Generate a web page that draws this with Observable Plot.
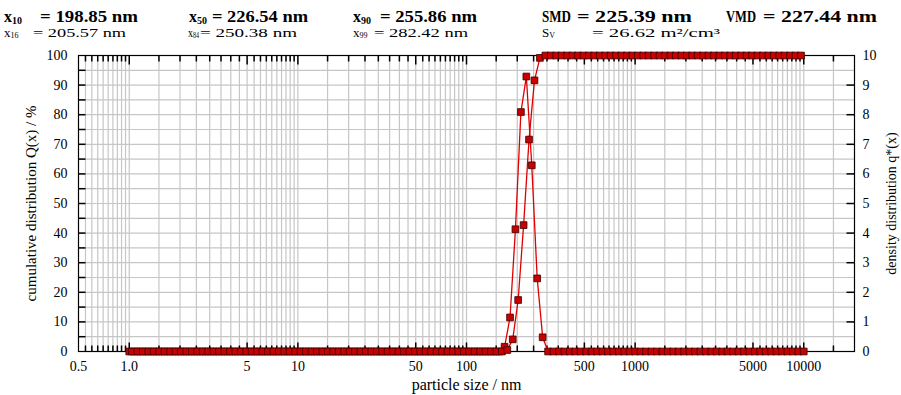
<!DOCTYPE html>
<html><head><meta charset="utf-8">
<script src="https://cdn.jsdelivr.net/npm/d3@7"></script>
<script src="https://cdn.jsdelivr.net/npm/@observablehq/plot@0.6"></script>
<style>
body{margin:0;background:#fff;font-family:"Liberation Serif",serif;}
svg{display:block}
</style></head><body>
<svg id="hdr" width="901" height="42" fill="#000" style="font-family:'Liberation Serif',serif"></svg>
<div id="chart"></div>
<script>
// ---------- header statistics ----------
const mainNames = [["x","10"],["x","50"],["x","90"],["SMD",""],["VMD",""]];
const mainValues = ["198.85 nm","226.54 nm","255.86 nm","225.39 nm","227.44 nm"];
const subNames = [["x","16"],["x","84"],["x","99"],["S","V"]];
const subValues = ["205.57 nm","250.38 nm","282.42 nm","26.62 m²/cm³"];

// ---------- axes ----------
const xTickValues = [0.5, 1, 5, 10, 50, 100, 500, 1000, 5000, 10000];
const xTickLabels = ["0.5","1.0","5","10","50","100","500","1000","5000","10000"];
const leftTickValues = [0,10,20,30,40,50,60,70,80,90,100];
const rightTickValues = [0,1,2,3,4,5,6,7,8,9,10];
const xLabel = "particle size / nm";
const yLeftLabel = "cumulative distribution Q(x) / %";
const yRightLabel = "density distribution q*(x)";

// ---------- cumulative distribution Q(x) ----------
const sizeQ = [
 1.038,1.118,1.204,1.297,1.397,1.505,1.621,1.746,1.880,2.025,2.181,2.349,2.530,2.726,2.936,3.162,3.406,3.669,3.951,4.256,4.584,4.938,5.318,5.728,6.170,6.646,7.158,7.710,8.305,8.945,9.635,
 10.38,11.18,12.04,12.97,13.97,15.05,16.21,17.46,18.80,20.25,21.81,23.49,25.30,27.26,29.36,31.62,34.06,36.69,39.51,42.56,45.84,49.38,53.18,57.28,61.70,66.46,71.58,77.10,83.05,89.45,96.35,
 103.8,111.8,120.4,129.7,139.7,150.5,162.1,174.6,188.0,202.5,218.1,234.9,253.0,272.6,293.6,316.2,340.6,366.9,395.1,425.6,458.4,493.8,531.8,572.8,617.0,664.6,715.8,771.0,830.5,894.5,963.5,
 1038,1118,1204,1297,1397,1505,1621,1746,1880,2025,2181,2349,2530,2726,2936,3162,3406,3669,3951,4256,4584,4938,5318,5728,6170,6646,7158,7710,8305,8945,9635
];
const Qvals = [
 0,0,0,0,0,0,0,0,0,0, 0,0,0,0,0,0,0,0,0,0, 0,0,0,0,0,0,0,0,0,0, 0,
 0,0,0,0,0,0,0,0,0,0, 0,0,0,0,0,0,0,0,0,0, 0,0,0,0,0,0,0,0,0,0, 0,
 0,0,0,0,0,0,0,0.5,4.1,17.4, 42.7,71.6,91.6,99.2,100,100,100,100,100,100, 100,100,100,100,100,100,100,100,100,100, 100,
 100,100,100,100,100,100,100,100,100,100, 100,100,100,100,100,100,100,100,100,100, 100,100,100,100,100,100,100,100,100,100, 100
];

// ---------- density distribution q*(x) ----------
const sizeq = [
 1,1.077,1.160,1.250,1.346,1.450,1.562,1.682,1.812,1.951,2.102,2.264,2.438,2.626,2.829,3.047,3.282,3.535,3.808,4.101,4.417,4.758,5.125,5.520,5.946,6.404,6.898,7.430,8.003,8.620,9.284,
 10,10.77,11.60,12.50,13.46,14.50,15.62,16.82,18.12,19.51,21.02,22.64,24.38,26.26,28.29,30.47,32.82,35.35,38.08,41.01,44.17,47.58,51.25,55.20,59.46,64.04,68.98,74.30,80.03,86.20,92.84,
 100,107.7,116.0,125.0,134.6,145.0,156.2,168.2,181.2,195.1,210.2,226.4,243.8,262.6,282.9,304.7,328.2,353.5,380.8,410.1,441.7,475.8,512.5,552.0,594.6,640.4,689.8,743.0,800.3,862.0,928.4,
 1000,1077,1160,1250,1346,1450,1562,1682,1812,1951,2102,2264,2438,2626,2829,3047,3282,3535,3808,4101,4417,4758,5125,5520,5946,6404,6898,7430,8003,8620,9284,10000
];
const qvals = [
 0,0,0,0,0,0,0,0,0,0, 0,0,0,0,0,0,0,0,0,0, 0,0,0,0,0,0,0,0,0,0, 0,
 0,0,0,0,0,0,0,0,0,0, 0,0,0,0,0,0,0,0,0,0, 0,0,0,0,0,0,0,0,0,0, 0,
 0,0,0,0,0,0,0,0.16,1.15,4.13, 8.09,9.29,6.29,2.47,0.48,0,0,0,0,0, 0,0,0,0,0,0,0,0,0,0, 0,
 0,0,0,0,0,0,0,0,0,0, 0,0,0,0,0,0,0,0,0,0, 0,0,0,0,0,0,0,0,0,0, 0,0
];

// ---------- header drawing ----------
const SERIF = "'Liberation Serif', serif";
const hdr = d3.select("#hdr");
const mainLX = [4,189,353,542,726], mainVX = [40,212,380,577,763], mainVW = [98,96,97,115,114];
const mainNW = [null,null,null,29,30];
const subLX = [4,188,353,542], subVX = [33,200,374,592], subVW = [93,97,94,128];
const subNW = [null,11,null,null];
function drawName(x, y, [name, sub], size, subSize, weight, subDy, w) {
  const t = hdr.append("text").attr("x", x).attr("y", y).attr("font-size", size).attr("font-weight", weight);
  if (w) t.attr("textLength", w).attr("lengthAdjust", "spacingAndGlyphs");
  t.append("tspan").text(name);
  if (sub) t.append("tspan").attr("font-size", subSize).attr("dy", subDy).text(sub);
}
function drawValue(x, y, txt, w, size, weight) {
  hdr.append("text").attr("x", x).attr("y", y).attr("font-size", size).attr("font-weight", weight)
    .attr("textLength", w).attr("lengthAdjust", "spacingAndGlyphs").text("= " + txt);
}
mainNames.forEach((n, i) => {
  drawName(mainLX[i], 21.5, n, 16, 10, "bold", 2, mainNW[i]);
  drawValue(mainVX[i], 21.5, mainValues[i], mainVW[i], 16, "bold");
});
subNames.forEach((n, i) => {
  drawName(subLX[i], 36.5, n, 13, 8, "normal", 1.5, subNW[i]);
  drawValue(subVX[i], 36.5, subValues[i], subVW[i], 13, "normal");
});

// ---------- chart ----------
const cumData = sizeQ.map((s, i) => ({size: s, Q: Qvals[i]}));
const densData = sizeq.map((s, i) => ({size: s, q: qvals[i]}));
const xDomain = [0.5, 20000];
const gridX = [];
for (let e = -1; e <= 4; e++) for (let m = 1; m < 10; m += 0.5) {
  const v = +(m * 10 ** e).toPrecision(3);
  if (v > 0.5 && v < 20000) gridX.push(v);
}
const gridY = d3.range(5, 100, 5);
const minorX = gridX.filter(v => !xTickValues.includes(v));
const majorX = xTickValues.filter(v => v > 0.5);
const tickSym = (dx, dy) => ({draw(ctx) { ctx.moveTo(0, 0); ctx.lineTo(dx, dy); }});
const lineColor = "#e00000", dotFill = "#c80000", dotStroke = "#3a0000";

const chart = Plot.plot({
  width: 901, height: 353,
  marginLeft: 78, marginRight: 47, marginTop: 13, marginBottom: 44,
  style: {fontSize: "14px", color: "#000", background: "#fff"},
  x: {type: "log", domain: xDomain, axis: null},
  y: {domain: [0, 100], axis: null},
  marks: [
    Plot.ruleX(gridX, {stroke: "#c6c6c6", strokeWidth: 1.2}),
    Plot.ruleY(gridY, {stroke: "#c6c6c6", strokeWidth: 1.2}),
    Plot.frame({stroke: "#000", strokeWidth: 1.2}),
    Plot.dot(minorX, {x: d => d, y: 0, symbol: tickSym(0, -6), stroke: "#000", fill: "none"}),
    Plot.dot(minorX, {x: d => d, y: 100, symbol: tickSym(0, 6), stroke: "#000", fill: "none"}),
    Plot.dot(majorX, {x: d => d, y: 0, symbol: tickSym(0, -9), stroke: "#000", fill: "none"}),
    Plot.dot(majorX, {x: d => d, y: 100, symbol: tickSym(0, 9), stroke: "#000", fill: "none"}),
    Plot.dot(d3.range(5, 100, 5), {x: 0.5, y: d => d, symbol: tickSym(7, 0), stroke: "#000", fill: "none"}),
    Plot.dot(rightTickValues.slice(1, -1).map(v => v * 10), {x: 20000, y: d => d, symbol: tickSym(-8, 0), stroke: "#000", fill: "none"}),
    // x tick labels
    Plot.text(xTickValues, {x: d => d, y: 0, text: (d, i) => xTickLabels[i], dy: 15, fontSize: 14, fill: "#000"}),
    // left tick labels
    Plot.text(leftTickValues, {x: 0.5, y: d => d, text: d => String(d), dx: -11, textAnchor: "end", fontSize: 14, fill: "#000"}),
    // right tick labels
    Plot.text(rightTickValues, {x: 20000, y: d => d * 10, text: d => String(d), dx: 8, textAnchor: "start", fontSize: 14, fill: "#000"}),
    Plot.text([xLabel], {text: d => d, frameAnchor: "bottom", lineAnchor: "middle", textAnchor: "middle", dy: 33, fontSize: 16, fill: "#000"}),
    Plot.text([yLeftLabel], {text: d => d, frameAnchor: "left", textAnchor: "middle", lineAnchor: "middle", dx: -47, rotate: -90, fontSize: 15, fill: "#000"}),
    Plot.text([yRightLabel], {text: d => d, frameAnchor: "right", textAnchor: "middle", lineAnchor: "middle", dx: 37, rotate: -90, fontSize: 14, fill: "#000"}),
    Plot.line(densData, {x: "size", y: d => d.q * 10, stroke: lineColor, strokeWidth: 1.3}),
    Plot.line(cumData, {x: "size", y: "Q", stroke: lineColor, strokeWidth: 1.3}),
    Plot.dot(densData, {x: "size", y: d => d.q * 10, symbol: "square", r: 3.8, fill: dotFill, stroke: dotStroke, strokeWidth: 0.8}),
    Plot.dot(cumData, {x: "size", y: "Q", symbol: "square", r: 3.8, fill: dotFill, stroke: dotStroke, strokeWidth: 0.8})
  ]
});
// force the serif font on every text element of the chart
d3.select(chart).attr("font-family", SERIF).style("font-family", SERIF);
d3.select(chart).selectAll("g, text").attr("font-family", SERIF).style("font-family", SERIF);
document.getElementById("chart").appendChild(chart);
</script>
</body></html>
